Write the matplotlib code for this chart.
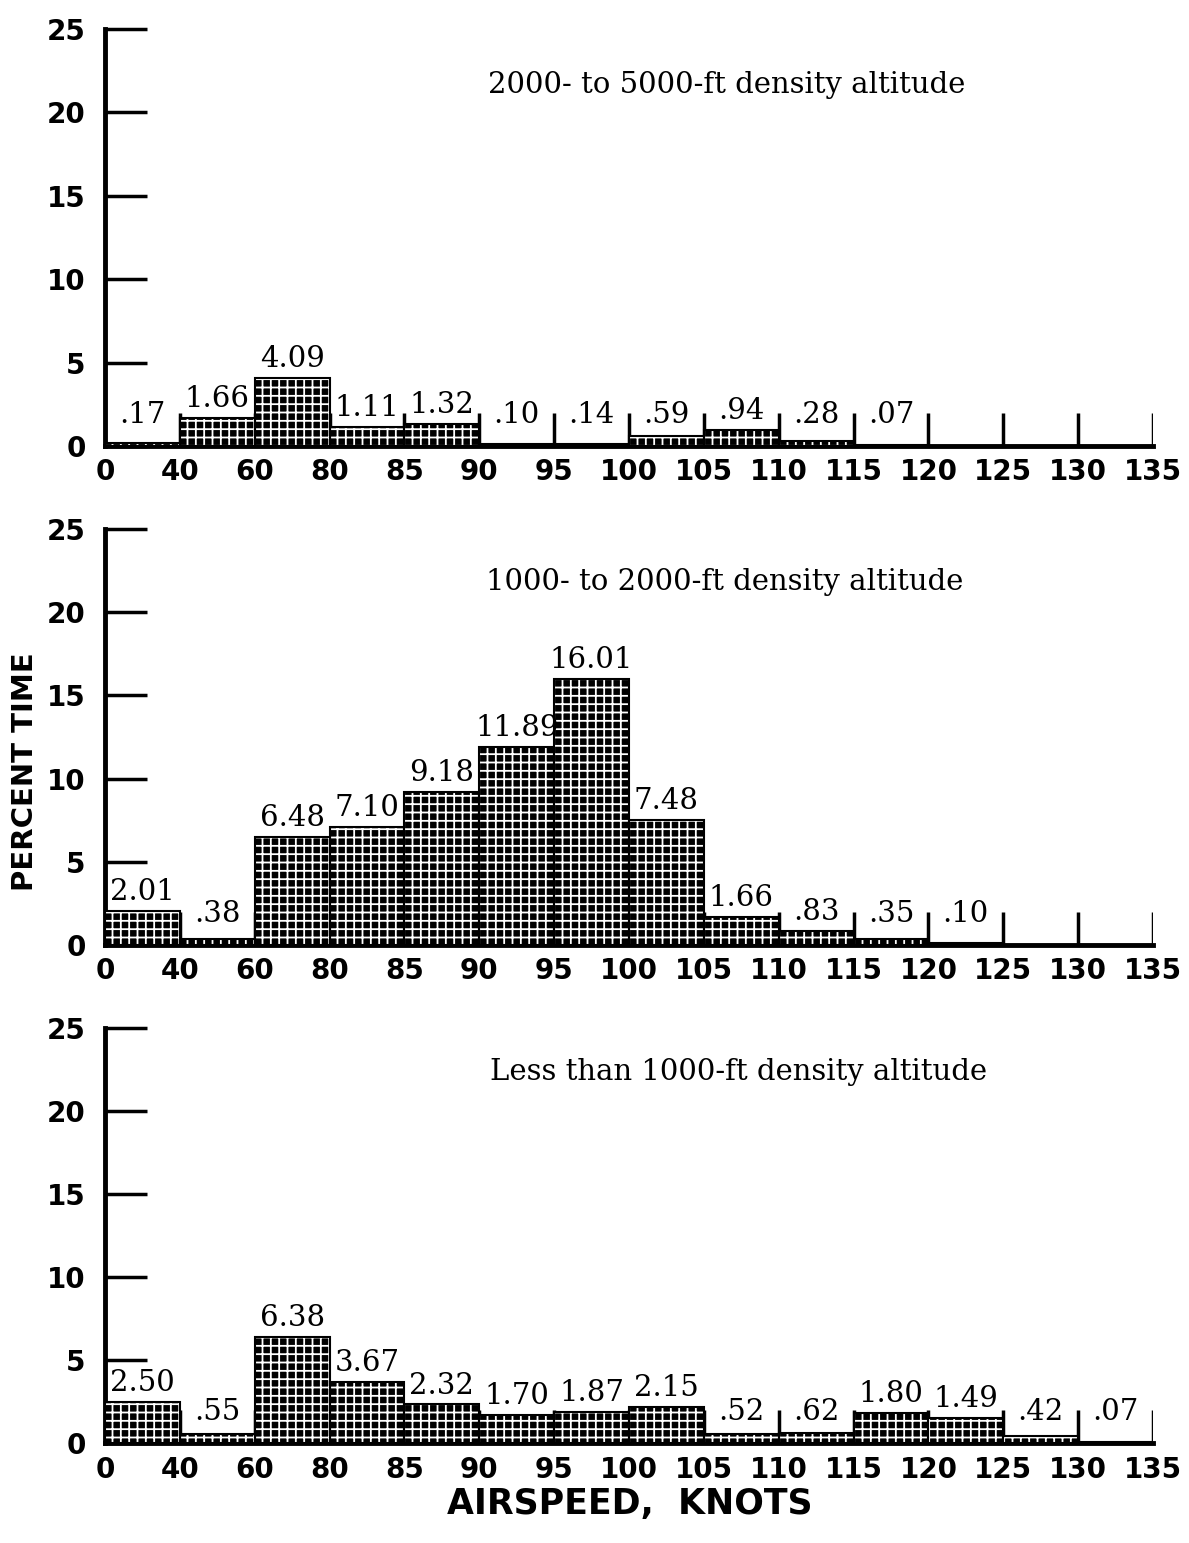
import matplotlib
matplotlib.use('Agg')
import matplotlib.pyplot as plt

# bin edges (knots) and percent time in each bin
edges = ['0', '40', '60', '80', '85', '90', '95', '100', '105', '110', '115', '120', '125', '130', '135']

high_alt = [0.17, 1.66, 4.09, 1.11, 1.32, 0.10, 0.14, 0.59, 0.94, 0.28, 0.07, 0, 0, 0]
high_lbl = ['.17', '1.66', '4.09', '1.11', '1.32', '.10', '.14', '.59', '.94', '.28', '.07', '', '', '']

mid_alt = [2.01, 0.38, 6.48, 7.10, 9.18, 11.89, 16.01, 7.48, 1.66, 0.83, 0.35, 0.10, 0, 0]
mid_lbl = ['2.01', '.38', '6.48', '7.10', '9.18', '11.89', '16.01', '7.48', '1.66', '.83', '.35', '.10', '', '']

low_alt = [2.50, 0.55, 6.38, 3.67, 2.32, 1.70, 1.87, 2.15, 0.52, 0.62, 1.80, 1.49, 0.42, 0.07]
low_lbl = ['2.50', '.55', '6.38', '3.67', '2.32', '1.70', '1.87', '2.15', '.52', '.62', '1.80', '1.49', '.42', '.07']

titles = ['2000- to 5000-ft density altitude',
          '1000- to 2000-ft density altitude',
          'Less than 1000-ft density altitude']
title_x = [0.593, 0.591, 0.605]
title_y = [0.866, 0.873, 0.894]

plt.rcParams['hatch.linewidth'] = 1.3

fig = plt.figure(figsize=(11.89, 15.43), dpi=100)

boxes = [[0.0883, 0.7110, 0.8814, 0.2703],
         [0.0883, 0.3876, 0.8814, 0.2696],
         [0.0883, 0.0648, 0.8814, 0.2690]]

serif = 'DejaVu Serif'

for box, vals, lbls, title, tx, ty in zip(boxes, [high_alt, mid_alt, low_alt],
                                          [high_lbl, mid_lbl, low_lbl], titles, title_x, title_y):
    ax = fig.add_axes(box)
    n = len(vals)
    xs = [i + 0.5 for i in range(n)]

    # separator marks at each bin edge
    ax.vlines(range(1, n + 1), 0, 2.0, color='black', lw=2.5, zorder=1)

    # dotted-looking bars: black fill with white grid hatch
    ax.bar(xs, vals, width=1.0, color='black', edgecolor='black', lw=0, zorder=2)
    ax.bar(xs, vals, width=1.0, facecolor='none', edgecolor='white', hatch='++', lw=0, zorder=3)
    ax.bar(xs, vals, width=1.0, facecolor='none', edgecolor='black', lw=1.5, zorder=4)

    for x, v, s in zip(xs, vals, lbls):
        if s:
            ax.text(x, max(v, 0.7) + 0.3, s, ha='center', va='bottom',
                    fontsize=21, family=serif, zorder=5)

    ax.text(tx, ty, title, transform=ax.transAxes, ha='center', va='center',
            fontsize=21, family=serif)

    ax.set_xlim(0, n)
    ax.set_ylim(0, 25)
    ax.set_xticks(range(n + 1))
    ax.set_xticklabels(edges, fontsize=20, fontweight='bold')
    ax.set_yticks([0, 5, 10, 15, 20, 25])
    ax.set_yticklabels(['0', '5', '10', '15', '20', '25'], fontsize=20, fontweight='bold')
    ax.tick_params(axis='x', length=0, pad=9)
    ax.tick_params(axis='y', direction='in', length=30, width=2.5, pad=14)

    for side in ['top', 'right']:
        ax.spines[side].set_visible(False)
    for side in ['left', 'bottom']:
        ax.spines[side].set_linewidth(3.5)
    ax.patch.set_visible(False)

fig.text(0.021, 0.50, 'PERCENT TIME', rotation=90, ha='center', va='center',
         fontsize=21, fontweight='bold')
fig.text(0.53, 0.025, 'AIRSPEED,  KNOTS', ha='center', va='center',
         fontsize=25, fontweight='bold')

fig.savefig('out.png', dpi=100)
